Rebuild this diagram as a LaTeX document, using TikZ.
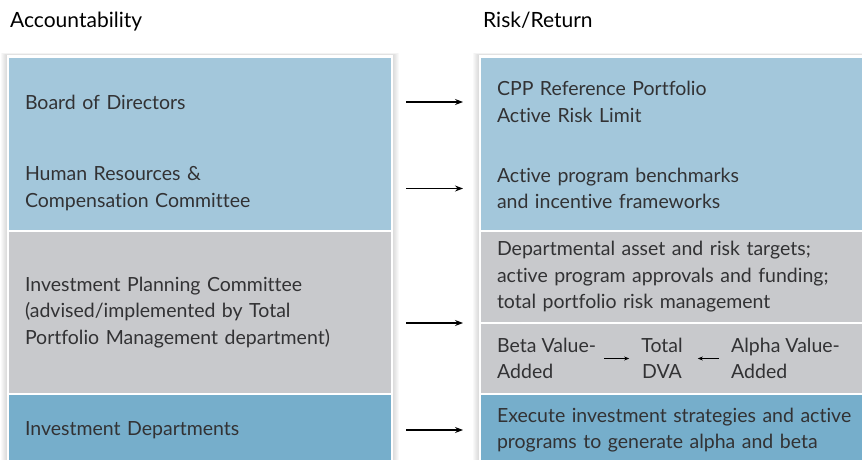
\documentclass[tikz,border=0pt]{standalone}
\usepackage{fontspec}
\setmainfont[Ligatures=NoCommon]{Lato}
\usetikzlibrary{arrows.meta,positioning}
\definecolor{paleblue}{RGB}{163,199,219}
\definecolor{panelgray}{RGB}{200,201,204}
\definecolor{deepblue}{RGB}{118,174,203}
\definecolor{inkgray}{RGB}{50,50,52}

\begin{document}
\begin{tikzpicture}[x=1pt,y=-1pt,
	every node/.style={font=\fontsize{19.5}{26.5}\selectfont,text=inkgray},
	head/.style={anchor=base west,inner sep=0pt,text=black,font=\fontsize{21}{26}\selectfont},
	lrow/.style={inner xsep=16pt,inner ysep=0pt,outer sep=0pt,text width=350pt,align=left},
	rrow/.style={inner xsep=16pt,inner ysep=0pt,outer sep=0pt,text width=368pt,align=left},
	arr/.style={-{Stealth[length=8pt,width=6pt]},line width=1.1pt,shorten <=15pt,shorten >=18pt},
	small arr/.style={-{Stealth[length=5pt,width=4pt]},line width=0.9pt}]
	\useasboundingbox (0,0) rectangle (862,460);
	% panels with soft shadow
	\foreach \s in {1,...,6}{
		\fill[black,opacity=0.025] (7-\s,55-0.3*\s) rectangle (393+\s,470);
		\fill[black,opacity=0.025] (479-\s,55-0.3*\s) rectangle (880,470);
	}
	\fill[white] (7,55) rectangle (393,470);
	\fill[white] (479,55) rectangle (880,470);
	\node[head] (acc) at (10,28) {Accountability};
	\node[head] (rr) at (483,28) {Risk/Return};
	% accountability column
	\node[lrow,fill=paleblue,minimum height=88pt,anchor=north west] (bod) at (9,58) {Board of Directors};
	\node[lrow,fill=paleblue,minimum height=85pt,below=0pt of bod] (hr) {Human Resources \&\\Compensation Committee};
	\node[lrow,fill=panelgray,minimum height=163pt,below=0pt of hr] (ipc) {Investment Planning Committee\\(advised/implemented by Total\\Portfolio Management department)};
	\node[lrow,fill=deepblue,minimum height=72pt,below=0pt of ipc] (inv) {Investment Departments};
	% risk/return column
	\node[rrow,fill=paleblue,minimum height=88pt,right=90pt of bod] (cpp) {CPP Reference Portfolio\\Active Risk Limit};
	\node[rrow,fill=paleblue,minimum height=85pt,below=0pt of cpp] (bench) {Active program benchmarks\\and incentive frameworks};
	\node[rrow,fill=panelgray,minimum height=92pt,below=0pt of bench] (dep) {Departmental asset and risk targets;\\active program approvals and funding;\\total portfolio risk management};
	\node[rrow,fill=panelgray,minimum height=71pt,below=0pt of dep] (dva) {};
	\node[rrow,fill=deepblue,minimum height=72pt,below=0pt of dva] (exec) {Execute investment strategies and active\\programs to generate alpha and beta};
	\foreach \r in {hr,ipc,bench,dep,dva}
		\draw[white,line width=1.2pt] (\r.south west) -- (\r.south east);
	\node[anchor=west,inner sep=0pt,align=left] (beta) at ([xshift=16pt]dva.west) {Beta Value-\\Added};
	\node[inner sep=0pt,align=center] (total) at ([xshift=181pt]dva.west) {Total\\DVA};
	\node[anchor=west,inner sep=0pt,align=left] (alpha) at ([xshift=250pt]dva.west) {Alpha Value-\\Added};
	\draw[small arr,shorten <=8pt,shorten >=12pt] (beta) -- (total);
	\draw[small arr,shorten <=12pt,shorten >=15pt] (alpha) -- (total);
	\path
	(bod) edge[arr] (cpp)
	(hr) edge[arr] (bench)
	(ipc.east |- dep.south) edge[arr] (dep.south west)
	(inv) edge[arr] (exec);
\end{tikzpicture}
\end{document}
